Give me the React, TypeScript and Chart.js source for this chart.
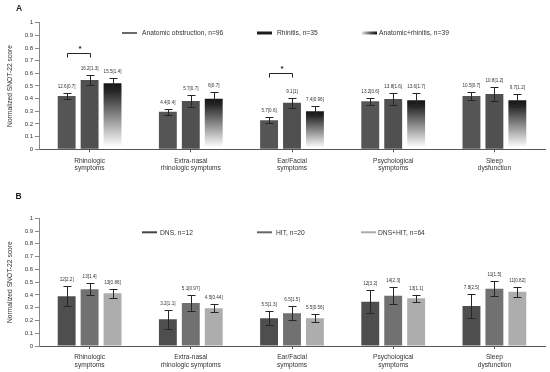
import React, { useEffect, useRef } from 'react';
import { Chart, registerables } from 'chart.js';
Chart.register(...registerables);

const FONT = "'Liberation Sans', Arial, sans-serif";

const categories = [
  ['Rhinologic', 'symptoms'],
  ['Extra-nasal', 'rhinologic symptoms'],
  ['Ear/Facial', 'symptoms'],
  ['Psychological', 'symptoms'],
  ['Sleep', 'dysfunction'],
];
const yTickLabels = ['0', '0.1', '0.2', '0.3', '0.4', '0.5', '0.6', '0.7', '0.8', '0.9', '1'];

// Panel A
const seriesNamesA = ['Anatomic obstruction, n=96', 'Rhinitis, n=35', 'Anatomic+rhinitis, n=39'];
const anatomicValues = [0.421, 0.297, 0.229, 0.379, 0.421];
const anatomicErr = [0.025, 0.025, 0.025, 0.028, 0.032];
const anatomicLabels = ['12.6[0.7]', '4.4[0.4]', '5.7[0.6]', '13.2[0.6]', '10.5[0.7]'];
const rhinitisValues = [0.547, 0.381, 0.368, 0.397, 0.437];
const rhinitisErr = [0.042, 0.048, 0.04, 0.048, 0.052];
const rhinitisLabels = ['16.2[1.3]', '5.7[0.7]', '9.1[1]', '13.8[1.6]', '10.8[1.2]'];
const comboValues = [0.521, 0.4, 0.3, 0.387, 0.387];
const comboErr = [0.045, 0.05, 0.04, 0.055, 0.05];
const comboLabels = ['15.5[1.4]', '6[0.7]', '7.4[0.96]', '13.6[1.7]', '9.7[1.2]'];
// significance brackets: [category index, dataset a, dataset b, bracket level]
const sigBracketsA = [
  [0, 0, 1, 0.763],
  [2, 0, 1, 0.6],
];

// Panel B
const seriesNamesB = ['DNS, n=12', 'HIT, n=20', 'DNS+HIT, n=64'];
const dnsValues = [0.389, 0.209, 0.217, 0.347, 0.313];
const dnsErr = [0.078, 0.073, 0.055, 0.09, 0.097];
const dnsLabels = ['12[2.2]', '3.2[1.1]', '5.5[1.3]', '12[3.2]', '7.8[2.5]'];
const hitValues = [0.444, 0.337, 0.256, 0.394, 0.449];
const hitErr = [0.047, 0.065, 0.055, 0.065, 0.06];
const hitLabels = ['13[1.4]', '5.1[0.97]', '6.5[1.5]', '14[2.3]', '11[1.5]'];
const dnsHitValues = [0.413, 0.295, 0.217, 0.373, 0.425];
const dnsHitErr = [0.035, 0.032, 0.03, 0.03, 0.04];
const dnsHitLabels = ['13[0.86]', '4.5[0.44]', '5.5[0.56]', '13[1.1]', '11[0.82]'];

function gradientFill(c: any) {
  const chart = c.chart;
  const sc = chart.scales && chart.scales.y;
  if (!chart.chartArea || !sc || c.type !== 'data') return '#333';
  const yTop = sc.getPixelForValue(c.raw);
  const yBot = sc.getPixelForValue(0);
  const g = chart.ctx.createLinearGradient(0, yTop, 0, yBot);
  g.addColorStop(0, '#161616');
  g.addColorStop(0.1, '#222222');
  g.addColorStop(0.96, '#ffffff');
  g.addColorStop(1, '#ffffff');
  return g;
}

function extrasPlugin(cfg: any) {
  return {
    id: 'extras',
    afterDatasetsDraw(chart: any) {
      const ctx = chart.ctx;
      const y = chart.scales.y;
      ctx.save();
      chart.data.datasets.forEach((ds: any, di: number) => {
        const meta = chart.getDatasetMeta(di);
        meta.data.forEach((bar: any, i: number) => {
          const v = ds.data[i];
          const e = cfg.errors[di][i];
          const yT = Math.round(y.getPixelForValue(v + e)) + 0.5;
          const yB = Math.round(y.getPixelForValue(v - e)) + 0.5;
          const x = Math.round(bar.x) + 0.5;
          ctx.strokeStyle = '#262626';
          ctx.lineWidth = 1;
          ctx.beginPath();
          ctx.moveTo(x, yT);
          ctx.lineTo(x, yB);
          ctx.moveTo(x - 4, yT);
          ctx.lineTo(x + 4, yT);
          ctx.moveTo(x - 4, yB);
          ctx.lineTo(x + 4, yB);
          ctx.stroke();
          ctx.fillStyle = '#333';
          ctx.font = `4.6px ${FONT}`;
          ctx.textAlign = 'center';
          ctx.textBaseline = 'middle';
          ctx.fillText(cfg.labels[di][i], bar.x, yT - 7);
        });
      });
      (cfg.brackets || []).forEach((b: any) => {
        const [cat, a, bb, level] = b;
        const xa = Math.round(chart.getDatasetMeta(a).data[cat].x) + 0.5;
        const xb = Math.round(chart.getDatasetMeta(bb).data[cat].x) + 0.5;
        const yl = Math.round(y.getPixelForValue(level)) + 0.5;
        ctx.strokeStyle = '#222';
        ctx.lineWidth = 1;
        ctx.beginPath();
        ctx.moveTo(xa, yl + 4);
        ctx.lineTo(xa, yl);
        ctx.lineTo(xb, yl);
        ctx.lineTo(xb, yl + 4);
        ctx.stroke();
        ctx.fillStyle = '#222';
        ctx.font = `bold 8px ${FONT}`;
        ctx.textAlign = 'center';
        ctx.textBaseline = 'middle';
        ctx.fillText('*', (xa + xb) / 2 + 1, yl - 5);
      });
      ctx.restore();
    },
    afterDraw(chart: any) {
      const ctx = chart.ctx;
      ctx.save();
      ctx.fillStyle = '#222';
      ctx.font = `bold 8.5px ${FONT}`;
      ctx.textAlign = 'center';
      ctx.textBaseline = 'middle';
      ctx.fillText(cfg.letter, cfg.letterX, cfg.letterY);
      cfg.legend.forEach((it: any, i: number) => {
        const name = chart.data.datasets[i].label;
        let stroke: any = it.color;
        if (it.gradient) {
          const g = ctx.createLinearGradient(it.x0, 0, it.x1, 0);
          g.addColorStop(0, '#dddddd');
          g.addColorStop(0.6, '#555555');
          g.addColorStop(1, '#111111');
          stroke = g;
        }
        ctx.strokeStyle = stroke;
        ctx.lineWidth = it.w;
        ctx.beginPath();
        ctx.moveTo(it.x0, cfg.legendY);
        ctx.lineTo(it.x1, cfg.legendY);
        ctx.stroke();
        ctx.fillStyle = '#333';
        ctx.font = `6.7px ${FONT}`;
        ctx.textAlign = 'left';
        ctx.textBaseline = 'middle';
        ctx.fillText(name, it.tx, cfg.legendY + 0.5);
      });
      ctx.restore();
    },
  };
}

function buildChart(canvas: HTMLCanvasElement, cfg: any) {
  return new Chart(canvas, {
    type: 'bar',
    data: {
      labels: categories,
      datasets: cfg.datasets,
    },
    options: {
      animation: false,
      responsive: false,
      devicePixelRatio: 1,
      layout: { padding: { left: 0, right: 5, top: cfg.topPad, bottom: 0 } },
      datasets: { bar: { categoryPercentage: 0.68, barPercentage: 0.78 } },
      plugins: { legend: { display: false }, tooltip: { enabled: false } },
      scales: {
        x: {
          grid: { display: true, offset: false, drawOnChartArea: false, drawTicks: true, tickLength: 3, tickColor: '#555' },
          border: { display: true, color: '#555', width: 1 },
          ticks: {
            color: '#333',
            font: { size: 6.6, family: FONT, lineHeight: 1.1 },
            padding: 5,
            maxRotation: 0,
            autoSkip: false,
          },
          afterFit: (s: any) => { s.height = cfg.xHeight; },
        },
        y: {
          min: 0,
          max: 1,
          ticks: {
            stepSize: 0.1,
            color: '#333',
            font: { size: 6, family: FONT },
            padding: 2,
            callback: (_v: any, i: number) => yTickLabels[i],
          },
          grid: { display: true, drawOnChartArea: false, drawTicks: true, tickLength: 4, tickColor: '#888' },
          border: { display: true, color: '#888', width: 1 },
          title: {
            display: true,
            text: 'Normalized SNOT-22 score',
            color: '#333',
            font: { size: 6.7, family: FONT },
            padding: { top: 6, bottom: 0 },
          },
          afterFit: (s: any) => { s.width = 39; },
        },
      },
    },
    plugins: [extrasPlugin(cfg)],
  } as any);
}

function Panel({ cfg }: { cfg: any }) {
  const ref = useRef<HTMLCanvasElement>(null);
  useEffect(() => {
    if (!ref.current) return;
    const ch = buildChart(ref.current, cfg);
    return () => ch.destroy();
  }, []);
  return <canvas ref={ref} width={550} height={186} style={{ display: 'block', width: 550, height: 186 }} />;
}

const cfgA = {
  letter: 'A', letterX: 19, letterY: 9,
  topPad: 22.7, xHeight: 36.7,
  legendY: 33,
  legend: [
    { x0: 122, x1: 137, tx: 142, w: 1.6, color: '#444' },
    { x0: 257, x1: 272, tx: 277, w: 3, color: '#1e1e1e' },
    { x0: 362, x1: 377, tx: 379, w: 3, gradient: true },
  ],
  brackets: sigBracketsA,
  errors: [anatomicErr, rhinitisErr, comboErr],
  labels: [anatomicLabels, rhinitisLabels, comboLabels],
  datasets: [
    { label: seriesNamesA[0], data: anatomicValues, backgroundColor: '#555555' },
    { label: seriesNamesA[1], data: rhinitisValues, backgroundColor: '#505050' },
    { label: seriesNamesA[2], data: comboValues, backgroundColor: gradientFill },
  ],
};

const cfgB = {
  letter: 'B', letterX: 18.5, letterY: 11,
  topPad: 32.3, xHeight: 26,
  legendY: 46.3,
  legend: [
    { x0: 142, x1: 157, tx: 160, w: 2, color: '#444' },
    { x0: 257, x1: 272, tx: 276, w: 2, color: '#666' },
    { x0: 361, x1: 376, tx: 378, w: 2, color: '#aaa' },
  ],
  brackets: [],
  errors: [dnsErr, hitErr, dnsHitErr],
  labels: [dnsLabels, hitLabels, dnsHitLabels],
  datasets: [
    { label: seriesNamesB[0], data: dnsValues, backgroundColor: '#4e4e4e' },
    { label: seriesNamesB[1], data: hitValues, backgroundColor: '#717171' },
    { label: seriesNamesB[2], data: dnsHitValues, backgroundColor: '#adadad' },
  ],
};

export default function App() {
  return (
    <div style={{ position: 'absolute', left: 0, top: 0, width: 550, height: 372, background: '#fff' }}>
      <Panel cfg={cfgA} />
      <Panel cfg={cfgB} />
    </div>
  );
}
